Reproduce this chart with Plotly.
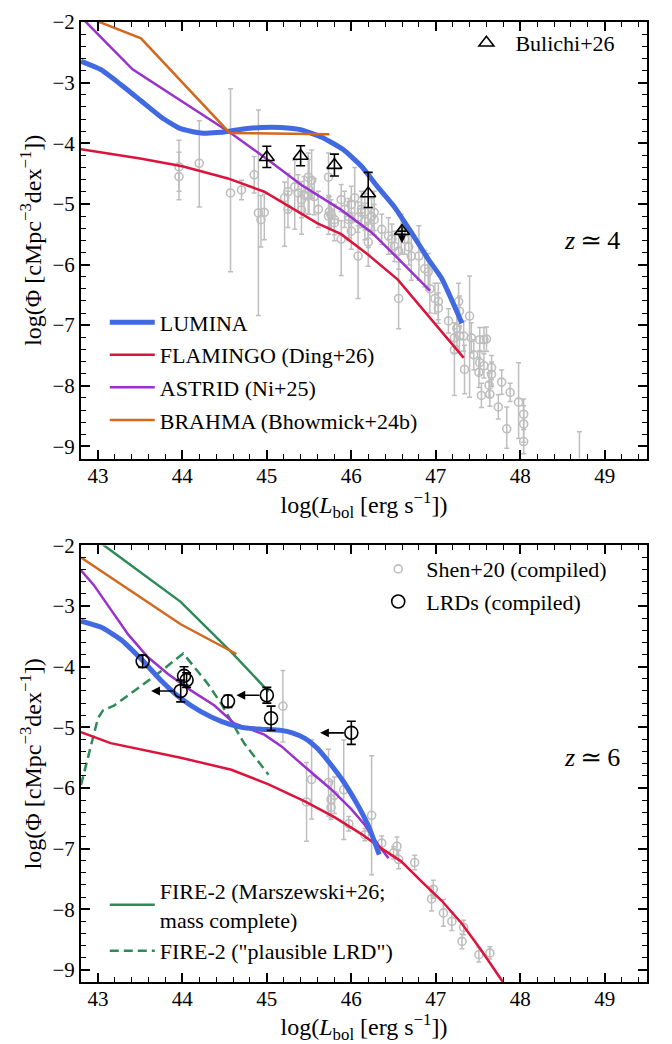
import plotly.graph_objects as go

FONT = "Liberation Serif, DejaVu Serif, serif"

# ---------------- z ~ 4 panel ----------------
lumina4_x = [42.80, 43.04, 43.27, 43.51, 43.75, 43.98, 44.22, 44.46, 44.70, 44.93, 45.17, 45.41, 45.65,
             45.90, 46.12, 46.30, 46.51, 46.71, 46.91, 47.07, 47.31]
lumina4_y = [-2.65, -2.79, -3.03, -3.30, -3.57, -3.76, -3.83, -3.82, -3.77, -3.74, -3.74, -3.78, -3.90,
             -4.10, -4.38, -4.70, -5.05, -5.47, -5.91, -6.23, -6.97]

flamingo4_x = [42.80, 43.50, 44.00, 44.54, 44.97, 45.30, 45.60, 45.88, 46.20, 46.55, 46.91, 47.33]
flamingo4_y = [-4.10, -4.25, -4.38, -4.58, -4.80, -5.07, -5.32, -5.50, -5.84, -6.25, -6.84, -7.54]

astrid4_x = [42.78, 42.88, 43.41, 43.98, 44.58, 45.02, 45.41, 45.87, 46.24, 46.56, 46.93]
astrid4_y = [-1.88, -2.03, -2.78, -3.30, -3.84, -4.28, -4.69, -5.09, -5.47, -5.91, -6.43]

brahma4_x = [42.80, 43.51, 44.56, 45.74]
brahma4_y = [-1.88, -2.27, -3.83, -3.85]

bulichi_x = [45.0, 45.4, 45.8, 46.2, 46.6]
bulichi_y = [-4.23, -4.21, -4.36, -4.83, -5.45]
bulichi_elo = [0.17, 0.16, 0.18, 0.23, 0.0]
bulichi_ehi = [0.18, 0.17, 0.18, 0.35, 0.0]
bulichi_limit_tip = -5.65   # upper limit on the brightest bin

shen4_x = [43.96, 43.96, 44.20, 44.57, 44.70, 44.85, 44.90, 44.93, 44.97, 45.21, 45.25, 45.33, 45.37,
           45.41, 45.49, 45.50, 45.53, 45.61, 45.73, 45.74, 45.80, 45.73, 45.88, 45.92, 45.97, 46.00,
           46.04, 46.08, 46.12, 46.16, 46.20, 46.24, 46.27, 46.20, 45.25, 45.41, 45.44, 45.49, 45.56,
           45.76, 45.80, 45.97, 46.00, 46.08, 46.12, 46.16, 46.27, 46.36, 46.44, 46.48, 46.51, 46.56,
           46.59, 46.63, 46.68, 46.71, 46.56, 46.80, 46.87, 46.91, 46.93, 46.99, 47.03, 47.03, 47.15,
           47.27, 47.28, 47.25, 47.22, 47.28, 47.33, 47.22, 47.40, 47.34, 47.42, 47.45, 47.52, 47.57,
           47.60, 47.52, 47.51, 47.57, 47.66, 47.66, 47.63, 47.54, 47.64, 47.78, 47.88, 47.74, 47.98,
           48.04, 48.04, 47.84, 48.04, 45.88, 48.70]
shen4_y = [-4.39, -4.55, -4.33, -4.82, -4.77, -4.52, -5.15, -5.26, -5.14, -4.90, -5.09, -4.72, -4.82,
           -5.10, -4.87, -4.77, -4.61, -5.09, -5.20, -5.13, -5.31, -4.56, -4.93, -5.09, -5.21, -5.45,
           -4.90, -5.86, -5.09, -5.29, -5.37, -5.21, -5.14, -5.63, -4.80, -4.93, -4.85, -4.56, -4.88,
           -5.18, -5.26, -5.26, -5.01, -5.22, -5.14, -5.13, -5.26, -5.42, -5.53, -5.58, -5.70, -5.78,
           -5.47, -5.58, -5.71, -5.86, -6.56, -5.86, -6.07, -6.12, -6.40, -6.56, -6.61, -6.72, -6.93,
           -6.61, -6.77, -7.05, -7.21, -7.18, -7.18, -7.41, -6.85, -7.73, -7.21, -7.49, -7.24, -7.24,
           -7.23, -7.62, -7.78, -7.67, -7.70, -7.81, -7.99, -8.16, -8.14, -7.94, -8.11, -8.35, -8.27,
           -8.47, -8.63, -8.71, -8.92, -5.58, -9.40]
shen4_elo = [0.40, 0.38, 0.72, 1.30, 0.16, 0.30, 1.69, 0.45, 0.45, 0.80, 0.30, 0.70, 0.30,
             0.40, 0.30, 0.40, 0.30, 0.30, 0.30, 0.25, 0.30, 0.30, 0.20, 0.30, 0.40, 0.30,
             0.40, 0.70, 0.30, 0.30, 0.35, 0.30, 0.30, 0.40, 0.30, 0.30, 0.30, 0.35, 0.30,
             0.25, 0.25, 0.30, 0.30, 0.25, 0.25, 0.30, 0.25, 0.25, 0.30, 0.25, 0.25, 0.30,
             0.35, 0.25, 0.30, 0.40, 0.50, 0.40, 0.30, 0.30, 0.40, 0.25, 0.30, 0.25, 0.20,
             0.30, 0.25, 0.30, 0.25, 0.25, 0.25, 0.75, 1.34, 0.40, 0.25, 0.25, 0.20, 0.20,
             0.20, 0.20, 0.25, 0.20, 0.20, 0.20, 0.20, 0.20, 0.20, 0.20, 0.15, 0.20, 0.60,
             0.25, 0.30, 0.32, 0.20, 0.60, 0.00]
shen4_ehi = [0.44, 0.40, 0.70, 1.72, 0.16, 0.30, 1.70, 0.40, 0.30, 0.26, 0.30, 0.44, 0.30,
             0.30, 0.30, 0.50, 0.50, 0.30, 0.30, 0.25, 0.30, 0.40, 0.25, 0.30, 0.30, 0.30,
             0.50, 0.50, 0.30, 0.30, 0.30, 0.30, 0.35, 0.30, 0.30, 0.30, 0.30, 0.40, 0.30,
             0.25, 0.25, 0.30, 0.30, 0.25, 0.25, 0.30, 0.25, 0.25, 0.30, 0.25, 0.25, 0.30,
             0.30, 0.25, 0.30, 0.40, 0.60, 0.50, 0.30, 0.30, 0.40, 0.25, 0.30, 0.25, 0.20,
             0.30, 0.25, 0.30, 0.25, 0.25, 0.25, 0.35, 0.66, 0.40, 0.25, 0.25, 0.20, 0.20,
             0.20, 0.20, 0.25, 0.20, 0.20, 0.20, 0.20, 0.20, 0.20, 0.20, 0.15, 0.20, 0.65,
             0.25, 0.30, 0.36, 0.20, 0.30, 0.64]

# ---------------- z ~ 6 panel ----------------
lumina6_x = [42.80, 43.04, 43.27, 43.51, 43.75, 43.98, 44.22, 44.46, 44.70, 44.93, 45.17, 45.30, 45.45,
             45.60, 45.75, 45.90, 46.05, 46.20, 46.33]
lumina6_y = [-3.25, -3.35, -3.55, -3.87, -4.23, -4.52, -4.74, -4.90, -5.00, -5.03, -5.05, -5.09, -5.18,
             -5.35, -5.60, -5.88, -6.22, -6.62, -7.10]

flamingo6_x = [42.80, 43.15, 43.98, 44.58, 45.02, 45.45, 45.80, 46.12, 46.36, 46.59, 46.83, 47.07, 47.31,
               47.54, 47.78, 47.86]
flamingo6_y = [-5.08, -5.26, -5.50, -5.70, -5.94, -6.22, -6.48, -6.76, -7.00, -7.21, -7.54, -7.86, -8.24,
               -8.68, -9.17, -9.35]

astrid6_x = [42.80, 42.95, 43.36, 43.59, 43.83, 44.10, 44.38, 44.61, 44.97, 45.17, 45.49, 45.76, 46.00,
             46.16, 46.32, 46.44]
astrid6_y = [-2.41, -2.65, -3.47, -3.84, -4.12, -4.39, -4.64, -4.93, -5.12, -5.31, -5.70, -6.02, -6.35,
             -6.61, -6.94, -7.16]

brahma6_x = [42.80, 43.51, 43.98, 44.64]
brahma6_y = [-2.20, -2.86, -3.30, -3.79]

fire_x = [42.80, 43.07, 43.98, 44.58, 45.02]
fire_y = [-1.72, -2.00, -2.93, -3.76, -4.41]

fire_lrd_x = [42.80, 42.88, 42.94, 43.00, 43.06, 43.19, 43.47, 43.75, 44.01, 44.08, 44.30, 44.46, 44.61,
              44.73, 45.02]
fire_lrd_y = [-5.95, -5.50, -5.14, -4.85, -4.72, -4.64, -4.36, -4.07, -3.78, -3.90, -4.28, -4.61, -4.98,
              -5.26, -5.78]

shen6_x = [45.19, 45.47, 45.53, 45.73, 45.76, 45.76, 45.80, 45.91, 45.97, 46.24, 46.16, 46.36, 46.50,
           46.54, 46.56, 46.75, 46.97, 46.95, 47.09, 47.19, 47.33, 47.31, 47.51, 47.64]
shen6_y = [-4.65, -6.23, -5.86, -5.91, -6.19, -6.32, -6.12, -6.03, -6.59, -6.45, -6.77, -6.91, -7.07,
           -6.96, -7.18, -7.23, -7.67, -7.83, -8.06, -8.20, -8.30, -8.53, -8.75, -8.72]
shen6_err = [0.59, 0.65, 0.65, 0.55, 0.30, 0.20, 0.30, 0.82, 0.12, 0.98, 0.10, 0.12, 0.10,
             0.15, 0.15, 0.12, 0.15, 0.20, 0.22, 0.15, 0.12, 0.12, 0.12, 0.10]

lrd_x = [43.53, 44.02, 44.05, 43.98, 44.54, 45.00, 45.05, 46.00]
lrd_y = [-3.91, -4.15, -4.22, -4.40, -4.57, -4.47, -4.85, -5.09]
lrd_err = [0.10, 0.15, 0.12, 0.18, 0.10, 0.13, 0.20, 0.19]
# upper limits in luminosity: (index, arrow tip)
lrd_limits = [(3, 43.63), (5, 44.64), (7, 45.63)]

BLUE = "#4169E1"
RED = "#DC143C"
PURPLE = "#9932CC"
ORANGE = "#D2691E"
GREEN = "#2E8B57"
GRAY = "#BEBEBE"

fig = go.Figure()


def line(x, y, color, width, name, xa, ya, legend, show=True, dash=None, group=None, smooth=False):
    ln = dict(color=color, width=width, dash=dash)
    if smooth:
        ln.update(shape="spline", smoothing=0.5)
    fig.add_trace(go.Scatter(
        x=x, y=y, mode="lines", name=name, xaxis=xa, yaxis=ya, line=ln,
        showlegend=show, legend=legend, legendgroup=group or name))


# gray compiled QLF points first so model curves sit on top
fig.add_trace(go.Scatter(
    x=shen4_x, y=shen4_y, mode="markers", xaxis="x", yaxis="y", showlegend=False,
    marker=dict(symbol="circle-open", size=8, color=GRAY, line=dict(width=1.6)),
    error_y=dict(type="data", symmetric=False, array=shen4_ehi, arrayminus=shen4_elo,
                 color=GRAY, thickness=1.5, width=2.5)))
fig.add_trace(go.Scatter(
    x=shen6_x, y=shen6_y, mode="markers", xaxis="x2", yaxis="y2", name="Shen+20 (compiled)",
    legend="legend4", legendgroup="shen",
    marker=dict(symbol="circle-open", size=8, color=GRAY, line=dict(width=1.6)),
    error_y=dict(type="data", array=shen6_err, color=GRAY, thickness=1.5, width=2.5)))

# z ~ 4 models
line(lumina4_x, lumina4_y, BLUE, 5, "LUMINA", "x", "y", "legend", smooth=True)
line(flamingo4_x, flamingo4_y, RED, 2.5, "FLAMINGO (Ding+26)", "x", "y", "legend")
line(astrid4_x, astrid4_y, PURPLE, 2.5, "ASTRID (Ni+25)", "x", "y", "legend")
line(brahma4_x, brahma4_y, ORANGE, 2.5, "BRAHMA (Bhowmick+24b)", "x", "y", "legend")

fig.add_trace(go.Scatter(
    x=bulichi_x, y=bulichi_y, mode="markers", xaxis="x", yaxis="y", name="Bulichi+26",
    legend="legend2",
    marker=dict(symbol="triangle-up-open", size=13, color="black", line=dict(width=1.6)),
    error_y=dict(type="data", symmetric=False, array=bulichi_ehi, arrayminus=bulichi_elo,
                 color="black", thickness=1.6, width=4.5)))

# z ~ 6 models
line(fire_x, fire_y, GREEN, 2.5, "FIRE-2 (Marszewski+26;<br>mass complete)", "x2", "y2", "legend3")
line(fire_lrd_x, fire_lrd_y, GREEN, 2.5, "FIRE-2 (\"plausible LRD\")", "x2", "y2", "legend3",
     dash="9px,5px")
line(brahma6_x, brahma6_y, ORANGE, 2.5, "BRAHMA", "x2", "y2", "legend3", show=False, group="b6")
line(astrid6_x, astrid6_y, PURPLE, 2.5, "ASTRID", "x2", "y2", "legend3", show=False, group="a6")
line(flamingo6_x, flamingo6_y, RED, 2.5, "FLAMINGO", "x2", "y2", "legend3", show=False, group="f6")
line(lumina6_x, lumina6_y, BLUE, 5, "LUMINA", "x2", "y2", "legend3", show=False, group="l6", smooth=True)

fig.add_trace(go.Scatter(
    x=lrd_x, y=lrd_y, mode="markers", xaxis="x2", yaxis="y2", name="LRDs (compiled)",
    legend="legend4", legendgroup="lrd",
    marker=dict(symbol="circle-open", size=13, color="black", line=dict(width=1.6)),
    error_y=dict(type="data", array=lrd_err, color="black", thickness=1.6, width=4.5)))

annotations = []
for i, tip in lrd_limits:
    annotations.append(dict(
        x=tip, y=lrd_y[i], ax=lrd_x[i], ay=lrd_y[i], xref="x2", yref="y2", axref="x2", ayref="y2",
        text="", showarrow=True, arrowhead=2, arrowsize=1.1, arrowwidth=1.6, arrowcolor="black",
        startstandoff=6))
annotations.append(dict(
    x=bulichi_x[-1], y=bulichi_limit_tip, ax=bulichi_x[-1], ay=bulichi_y[-1] + 0.1,
    xref="x", yref="y", axref="x", ayref="y", text="", showarrow=True, arrowhead=2,
    arrowsize=1.0, arrowwidth=1.6, arrowcolor="black"))
annotations.append(dict(x=0.955, y=0.772, xref="paper", yref="paper", xanchor="right", yanchor="middle",
                        text="<i>z</i>\u2009≃\u20094", showarrow=False,
                        font=dict(family=FONT, size=26, color="black")))
annotations.append(dict(x=0.955, y=0.234, xref="paper", yref="paper", xanchor="right", yanchor="middle",
                        text="<i>z</i>\u2009≃\u20096", showarrow=False,
                        font=dict(family=FONT, size=26, color="black")))

xticks = [43, 44, 45, 46, 47, 48, 49]
yticks = [-2, -3, -4, -5, -6, -7, -8, -9]

ax_common = dict(
    showline=True, linecolor="black", linewidth=2, mirror="allticks",
    ticks="inside", ticklen=9, tickwidth=1.6, tickcolor="black",
    minor=dict(ticks="inside", ticklen=5, tickwidth=1.2, tickcolor="black", dtick=0.2),
    showgrid=False, zeroline=False,
    tickfont=dict(family=FONT, size=21, color="black"),
)
xtitle = dict(text="log(<i>L</i><sub>bol</sub> [erg s<sup>−1</sup>])",
              font=dict(family=FONT, size=24, color="black"), standoff=0)
ytitle = dict(text="log(Φ [cMpc<sup>−3</sup>dex<sup>−1</sup>])",
              font=dict(family=FONT, size=24, color="black"), standoff=4)

leg_font = dict(family=FONT, size=22, color="black")
leg_common = dict(xanchor="left", yanchor="top", bgcolor="rgba(0,0,0,0)", font=leg_font,
                  traceorder="grouped")

fig.update_layout(
    width=672, height=1044,
    margin=dict(l=81, r=25, t=10, b=62),
    paper_bgcolor="white", plot_bgcolor="white",
    xaxis=dict(ax_common, range=[42.8, 49.5], tickvals=xticks, anchor="y", title=xtitle,
               ticklabelstandoff=-3),
    yaxis=dict(ax_common, range=[-9.2, -2], tickvals=yticks, domain=[0.5453, 1.0], anchor="x",
               title=ytitle),
    xaxis2=dict(ax_common, range=[42.8, 49.5], tickvals=xticks, anchor="y2", title=xtitle,
                ticklabelstandoff=-3),
    yaxis2=dict(ax_common, range=[-9.2, -2], tickvals=yticks, domain=[0.0, 0.4547], anchor="x2",
                title=ytitle),
    legend=dict(leg_common, x=0.042, y=0.709, itemwidth=45, tracegroupgap=1),
    legend2=dict(leg_common, x=0.665, y=1.0, itemwidth=48),
    legend3=dict(leg_common, x=0.042, y=0.117, itemwidth=45, tracegroupgap=0),
    legend4=dict(leg_common, x=0.511, y=0.452, itemwidth=46, tracegroupgap=1),
    annotations=annotations,
    showlegend=True,
)

fig.write_html("out.html")
